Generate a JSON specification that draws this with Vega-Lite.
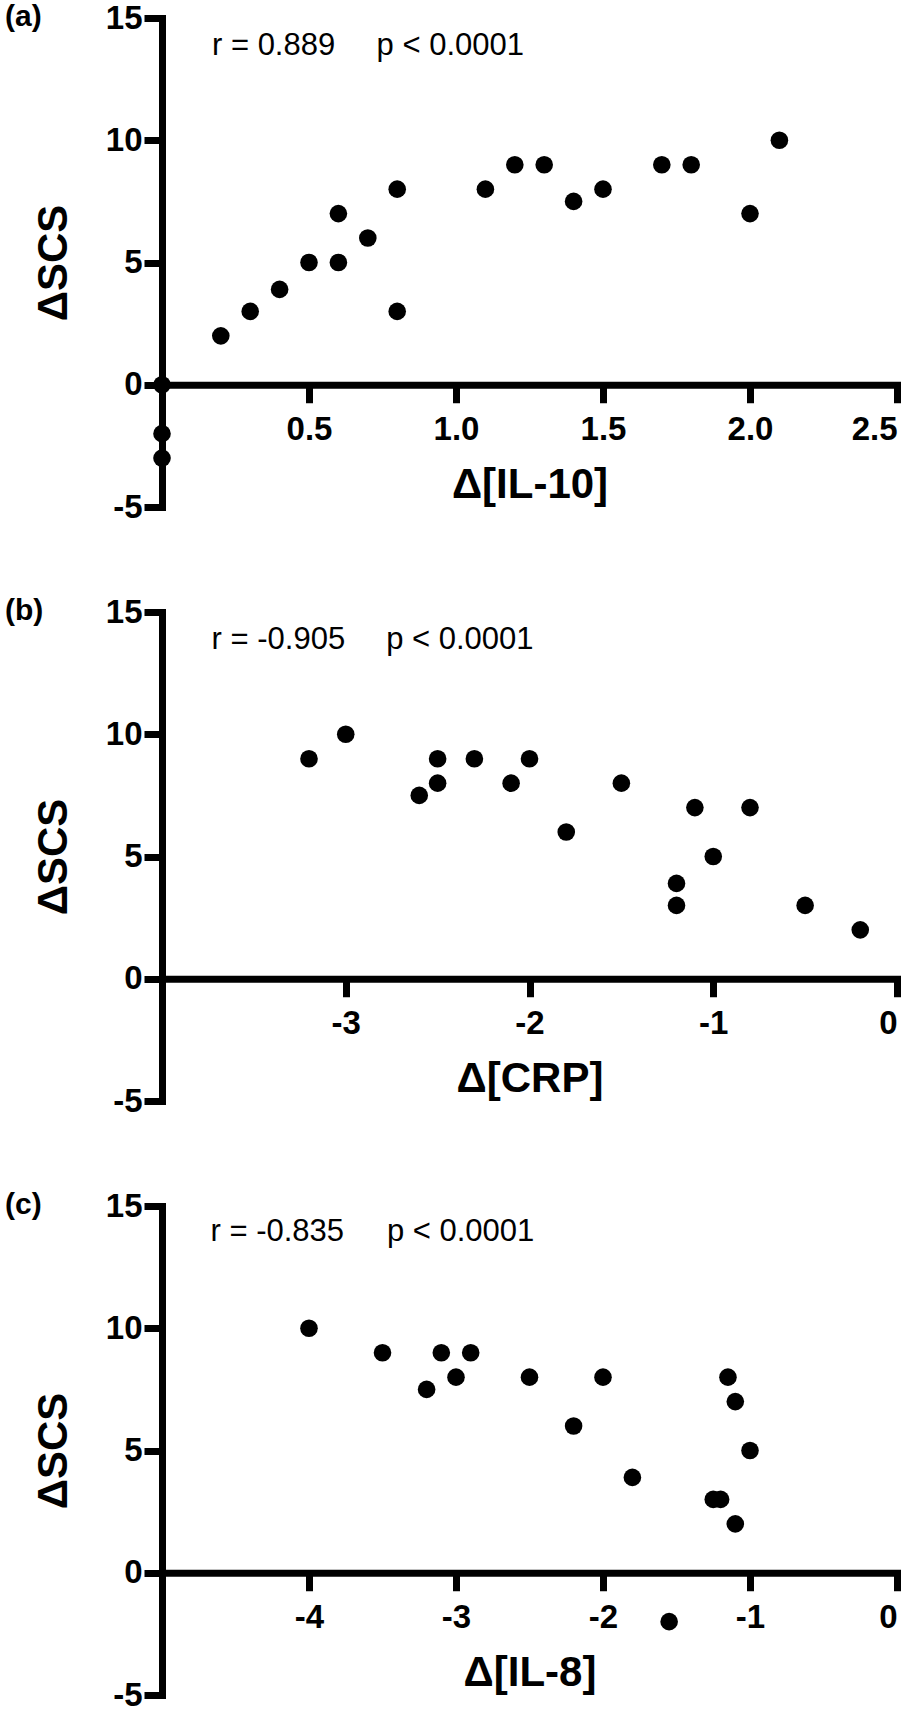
{
  "$schema": "https://vega.github.io/schema/vega-lite/v6.json",
  "background": "white",
  "padding": {"left": 5, "top": 2, "right": 0, "bottom": 0},
  "bounds": "flush",
  "spacing": 105,
  "config": {
    "view": {"stroke": null},
    "font": "Liberation Sans",
    "axis": {
      "grid": false,
      "domainColor": "black",
      "domainWidth": 7,
      "domainCap": "square",
      "tickColor": "black",
      "tickWidth": 7,
      "tickSize": 18,
      "labelColor": "black",
      "labelFont": "Liberation Sans",
      "labelFontWeight": "bold",
      "labelFontSize": 33,
      "titleColor": "black",
      "titleFont": "Liberation Sans",
      "titleFontWeight": "bold",
      "titleFontSize": 42
    },
    "axisY": {"labelPadding": 2, "titlePadding": 30},
    "axisX": {"labelPadding": 11, "titlePadding": 18, "offset": -122.25},
    "title": {
      "fontSize": 30,
      "fontWeight": "bold",
      "font": "Liberation Sans",
      "color": "black",
      "anchor": "start",
      "frame": "group",
      "dx": -157,
      "baseline": "top",
      "offset": -30
    },
    "text": {"font": "Liberation Sans", "fontSize": 31, "color": "black", "align": "left", "baseline": "alphabetic"},
    "circle": {"size": 310, "color": "black", "opacity": 1}
  },
  "datasets": {
    "points": [
      {"panel": "a", "x": 0, "y": 0},
      {"panel": "a", "x": 0, "y": -2},
      {"panel": "a", "x": 0, "y": -3},
      {"panel": "a", "x": 0.2, "y": 2},
      {"panel": "a", "x": 0.3, "y": 3},
      {"panel": "a", "x": 0.4, "y": 3.9},
      {"panel": "a", "x": 0.5, "y": 5},
      {"panel": "a", "x": 0.6, "y": 5},
      {"panel": "a", "x": 0.6, "y": 7},
      {"panel": "a", "x": 0.7, "y": 6},
      {"panel": "a", "x": 0.8, "y": 8},
      {"panel": "a", "x": 0.8, "y": 3},
      {"panel": "a", "x": 1.1, "y": 8},
      {"panel": "a", "x": 1.2, "y": 9},
      {"panel": "a", "x": 1.3, "y": 9},
      {"panel": "a", "x": 1.4, "y": 7.5},
      {"panel": "a", "x": 1.5, "y": 8},
      {"panel": "a", "x": 1.7, "y": 9},
      {"panel": "a", "x": 1.8, "y": 9},
      {"panel": "a", "x": 2.0, "y": 7},
      {"panel": "a", "x": 2.1, "y": 10},
      {"panel": "b", "x": -3.2, "y": 9},
      {"panel": "b", "x": -3.0, "y": 10},
      {"panel": "b", "x": -2.6, "y": 7.5},
      {"panel": "b", "x": -2.5, "y": 9},
      {"panel": "b", "x": -2.5, "y": 8},
      {"panel": "b", "x": -2.3, "y": 9},
      {"panel": "b", "x": -2.1, "y": 8},
      {"panel": "b", "x": -2.0, "y": 9},
      {"panel": "b", "x": -1.8, "y": 6},
      {"panel": "b", "x": -1.5, "y": 8},
      {"panel": "b", "x": -1.2, "y": 3.9},
      {"panel": "b", "x": -1.2, "y": 3},
      {"panel": "b", "x": -1.1, "y": 7},
      {"panel": "b", "x": -1.0, "y": 5},
      {"panel": "b", "x": -0.8, "y": 7},
      {"panel": "b", "x": -0.5, "y": 3},
      {"panel": "b", "x": -0.2, "y": 2},
      {"panel": "c", "x": -4.0, "y": 10},
      {"panel": "c", "x": -3.5, "y": 9},
      {"panel": "c", "x": -3.1, "y": 9},
      {"panel": "c", "x": -2.9, "y": 9},
      {"panel": "c", "x": -3.2, "y": 7.5},
      {"panel": "c", "x": -3.0, "y": 8},
      {"panel": "c", "x": -2.5, "y": 8},
      {"panel": "c", "x": -2.0, "y": 8},
      {"panel": "c", "x": -2.2, "y": 6},
      {"panel": "c", "x": -1.8, "y": 3.9},
      {"panel": "c", "x": -1.55, "y": -2},
      {"panel": "c", "x": -1.15, "y": 8},
      {"panel": "c", "x": -1.1, "y": 7},
      {"panel": "c", "x": -1.0, "y": 5},
      {"panel": "c", "x": -1.25, "y": 3},
      {"panel": "c", "x": -1.2, "y": 3},
      {"panel": "c", "x": -1.1, "y": 2}
    ]
  },
  "vconcat": [
    {
      "width": 735,
      "height": 489,
      "title": "(a)",
      "layer": [
        {
          "data": {"name": "points"},
          "transform": [{"filter": "datum.panel === 'a'"}],
          "mark": "circle",
          "encoding": {
            "x": {
              "field": "x",
              "type": "quantitative",
              "scale": {"domain": [0, 2.5], "nice": false, "zero": false},
              "axis": {"title": "Δ[IL-10]", "values": [0.5, 1, 1.5, 2, 2.5], "format": ".1f"}
            },
            "y": {
              "field": "y",
              "type": "quantitative",
              "scale": {"domain": [-5, 15], "nice": false},
              "axis": {"title": "ΔSCS", "values": [-5, 0, 5, 10, 15], "labelExpr": "replace(datum.label, '\u2212', '-')"}
            }
          }
        },
        {
          "data": {"values": [{"note": "r = 0.889"}]},
          "mark": "text",
          "encoding": {"text": {"field": "note"}, "x": {"datum": 0.17}, "y": {"datum": 13.5}}
        },
        {
          "data": {"values": [{"note": "p < 0.0001"}]},
          "mark": "text",
          "encoding": {"text": {"field": "note"}, "x": {"datum": 0.73}, "y": {"datum": 13.5}}
        }
      ]
    },
    {
      "width": 735,
      "height": 489,
      "title": "(b)",
      "layer": [
        {
          "data": {"name": "points"},
          "transform": [{"filter": "datum.panel === 'b'"}],
          "mark": "circle",
          "encoding": {
            "x": {
              "field": "x",
              "type": "quantitative",
              "scale": {"domain": [-4, 0], "nice": false, "zero": false},
              "axis": {"title": "Δ[CRP]", "values": [-3, -2, -1, 0], "format": "d", "labelExpr": "replace(datum.label, '\u2212', '-')"}
            },
            "y": {
              "field": "y",
              "type": "quantitative",
              "scale": {"domain": [-5, 15], "nice": false},
              "axis": {"title": "ΔSCS", "values": [-5, 0, 5, 10, 15], "labelExpr": "replace(datum.label, '\u2212', '-')"}
            }
          }
        },
        {
          "data": {"values": [{"note": "r = -0.905"}]},
          "mark": "text",
          "encoding": {"text": {"field": "note"}, "x": {"datum": -3.73}, "y": {"datum": 13.5}}
        },
        {
          "data": {"values": [{"note": "p < 0.0001"}]},
          "mark": "text",
          "encoding": {"text": {"field": "note"}, "x": {"datum": -2.78}, "y": {"datum": 13.5}}
        }
      ]
    },
    {
      "width": 735,
      "height": 489,
      "title": "(c)",
      "layer": [
        {
          "data": {"name": "points"},
          "transform": [{"filter": "datum.panel === 'c'"}],
          "mark": "circle",
          "encoding": {
            "x": {
              "field": "x",
              "type": "quantitative",
              "scale": {"domain": [-5, 0], "nice": false, "zero": false},
              "axis": {"title": "Δ[IL-8]", "values": [-4, -3, -2, -1, 0], "format": "d", "labelExpr": "replace(datum.label, '\u2212', '-')"}
            },
            "y": {
              "field": "y",
              "type": "quantitative",
              "scale": {"domain": [-5, 15], "nice": false},
              "axis": {"title": "ΔSCS", "values": [-5, 0, 5, 10, 15], "labelExpr": "replace(datum.label, '\u2212', '-')"}
            }
          }
        },
        {
          "data": {"values": [{"note": "r = -0.835"}]},
          "mark": "text",
          "encoding": {"text": {"field": "note"}, "x": {"datum": -4.67}, "y": {"datum": 13.55}}
        },
        {
          "data": {"values": [{"note": "p < 0.0001"}]},
          "mark": "text",
          "encoding": {"text": {"field": "note"}, "x": {"datum": -3.47}, "y": {"datum": 13.55}}
        }
      ]
    }
  ]
}
